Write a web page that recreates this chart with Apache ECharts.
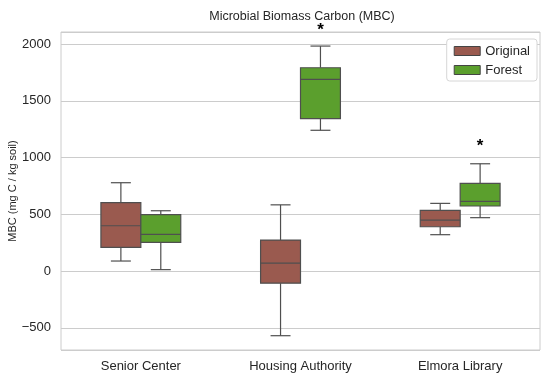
<!DOCTYPE html>
<html><head><meta charset="utf-8">
<script src="https://cdn.jsdelivr.net/npm/echarts@6/dist/echarts.min.js"></script>
<style>html,body{margin:0;padding:0;background:#fff}#c{width:550px;height:378px}</style>
</head><body><div id="c"></div>
<script>
const categories = ['Senior Center', 'Housing Authority', 'Elmora Library'];
const seriesNames = ['Original', 'Forest'];
// each row: [min, Q1, median, Q3, max]
const originalStats = [[88, 209, 399, 602, 778], [-570, -107, 70, 273, 583], [320, 390, 449, 535, 596]];
const forestStats = [[12, 253, 323, 496, 531], [1240, 1342, 1689, 1791, 1982], [470, 573, 614, 773, 945]];
const sigValues = [null, 2120, 1095];
const sigText = '*';
const yMin = -696, yMax = 2106;

const colors = ['#9a5a4f', '#5b9f2d'];
const lineColor = '#4f4f4f';
const FONT = 'Liberation Sans, Arial, sans-serif';

function toData(stats) { return stats.map((s, i) => [i].concat(s)); }

function makeRender(sIdx) {
  return function (params, api) {
    const cat = api.value(0);
    const band = api.size([1, 0])[0];
    const w = band * 0.25;
    const cx = api.coord([cat, 0])[0] + (sIdx === 0 ? -w / 2 : w / 2);
    const py = i => api.coord([cat, api.value(i)])[1];
    const lo = py(1), q1 = py(2), med = py(3), q3 = py(4), hi = py(5);
    const cap = w / 4;
    const ls = { stroke: lineColor, lineWidth: 1.2 };
    return {
      type: 'group',
      children: [
        { type: 'line', shape: { x1: cx, y1: q1, x2: cx, y2: lo }, style: ls },
        { type: 'line', shape: { x1: cx, y1: q3, x2: cx, y2: hi }, style: ls },
        { type: 'line', shape: { x1: cx - cap, y1: lo, x2: cx + cap, y2: lo }, style: ls },
        { type: 'line', shape: { x1: cx - cap, y1: hi, x2: cx + cap, y2: hi }, style: ls },
        { type: 'rect', shape: { x: cx - w / 2, y: q3, width: w, height: q1 - q3 },
          style: { fill: colors[sIdx], stroke: lineColor, lineWidth: 1.2 } },
        { type: 'line', shape: { x1: cx - w / 2, y1: med, x2: cx + w / 2, y2: med }, style: ls }
      ]
    };
  };
}

const sigData = [];
sigValues.forEach((v, i) => { if (v !== null) sigData.push([i, v]); });

const chart = echarts.init(document.getElementById('c'));
chart.setOption({
  animation: false,
  backgroundColor: '#fff',
  title: {
    text: 'Microbial Biomass Carbon (MBC)',
    left: 297, top: 5, textAlign: 'center',
    textStyle: { fontFamily: FONT, fontSize: 12.5, fontWeight: 'normal', color: '#262626' }
  },
  legend: {
    orient: 'vertical', right: 13, top: 39,
    data: seriesNames.map((n, i) => ({ name: n, itemStyle: { color: colors[i], borderColor: '#444', borderWidth: 1 } })),
    icon: 'rect', itemWidth: 26, itemHeight: 9, itemGap: 5,
    padding: [5, 7, 4, 7], backgroundColor: '#fff', borderColor: '#d6d6d6', borderWidth: 1, borderRadius: 3,
    textStyle: { fontFamily: FONT, fontSize: 13, color: '#262626', lineHeight: 14 }
  },
  grid: { left: 61, right: 10, top: 32, bottom: 28, show: true, borderColor: '#cccccc', borderWidth: 1,
    containLabel: false, outerBoundsMode: 'none' },
  xAxis: {
    type: 'category', data: categories,
    axisLine: { show: false }, axisTick: { show: false }, splitLine: { show: false },
    axisLabel: { fontFamily: FONT, fontSize: 13, color: '#262626', margin: 10 }
  },
  yAxis: {
    type: 'value', min: yMin, max: yMax, splitNumber: 5,
    name: 'MBC (mg C / kg soil)', nameLocation: 'middle', nameRotate: 90, nameGap: 43, nameMoveOverlap: false,
    nameTextStyle: { fontFamily: FONT, fontSize: 11, color: '#262626' },
    axisLine: { show: false }, axisTick: { show: false },
    splitLine: { lineStyle: { color: '#cccccc', width: 1 } },
    axisLabel: { fontFamily: FONT, fontSize: 13, color: '#262626', margin: 10, showMinLabel: false, showMaxLabel: false,
      formatter: v => (v < 0 ? '\u2212' + Math.abs(v) : String(v)) }
  },
  series: [
    { name: seriesNames[0], type: 'custom', renderItem: makeRender(0), data: toData(originalStats),
      itemStyle: { color: colors[0] }, encode: { x: 0, y: [1, 2, 3, 4, 5] }, clip: false },
    { name: seriesNames[1], type: 'custom', renderItem: makeRender(1), data: toData(forestStats),
      itemStyle: { color: colors[1] }, encode: { x: 0, y: [1, 2, 3, 4, 5] }, clip: false },
    { name: 'sig', type: 'custom', data: sigData, clip: false, encode: { x: 0, y: 1 },
      renderItem: function (params, api) {
        const band = api.size([1, 0])[0];
        const p = api.coord([api.value(0), api.value(1)]);
        return { type: 'text', x: p[0] + band * 0.125, y: p[1],
          style: { text: sigText, fill: '#000', font: 'bold 17px ' + FONT, align: 'center', verticalAlign: 'middle' } };
      } }
  ]
});
</script></body></html>
